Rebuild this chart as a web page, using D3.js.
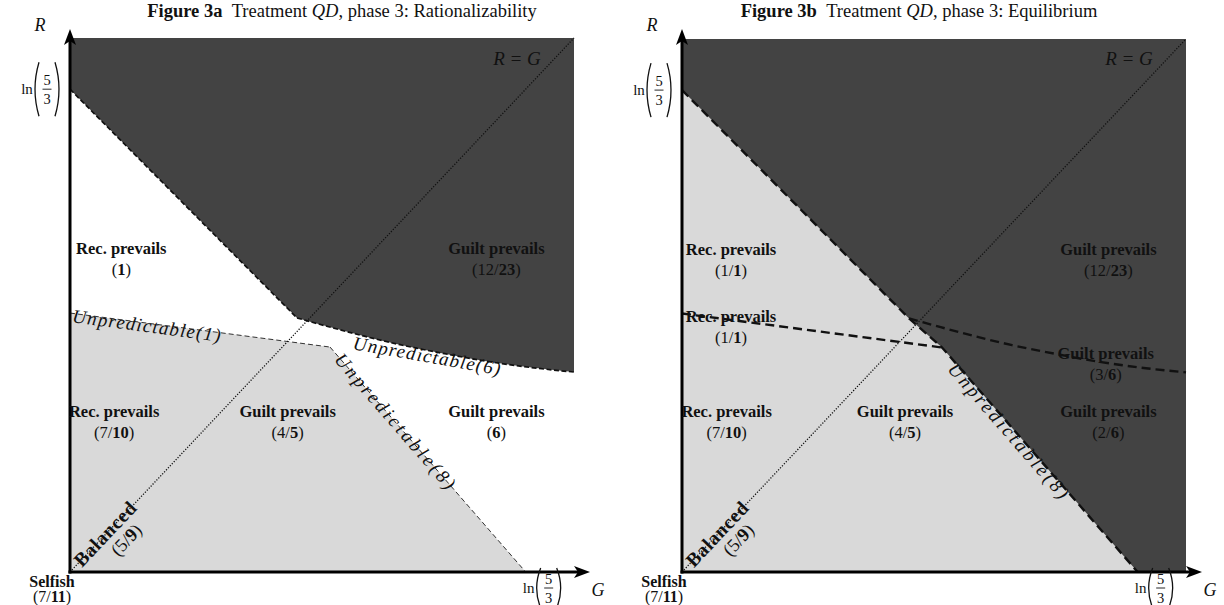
<!DOCTYPE html>
<html>
<head>
<meta charset="utf-8">
<script src="https://cdn.jsdelivr.net/npm/d3@7"></script>
<style>
  html, body { margin: 0; padding: 0; background: #fff; }
  svg { display: block; }
  text { font-family: "Liberation Serif", "Times New Roman", serif; fill: #111; }
</style>
</head>
<body>
<svg id="fig" width="1224" height="605"></svg>
<script>
// Parameter space: G (guilt sensitivity) and R (reciprocity sensitivity)
const L = Math.log(5 / 3);
const gMax = 0.565;
const rMax = 0.565;

// Boundary between "Rec. prevails" and the upper-right region (straight part)
const recGuiltEdge = [[0, L], [0.2545, 0.2688]];
// Curved boundary running from the kink on R = G to the right edge
const guiltCurve = [[0.2545, 0.2688], [0.290, 0.2595], [0.330, 0.2495], [0.370, 0.2405],
                    [0.420, 0.2310], [0.470, 0.2225], [0.520, 0.2160], [0.565, 0.2116]];
// Boundary between the lower-left "Rec. prevails" region and the upper one
const recLine = [[0, 0.274], [0.2915, 0.238]];
// Boundary between "Guilt prevails (4/5)" and the region to its right
const guiltEdge = [[0.2915, 0.238], [L, 0]];

// Region labels: name, numerator (null when single count), denominator, anchor (G, R)
const labelsA = [
  { name: "Rec. prevails", num: null, den: "1", g: 0.0575, r: 0.336 },
  { name: "Guilt prevails", num: "12", den: "23", g: 0.478, r: 0.336 },
  { name: "Rec. prevails", num: "7", den: "10", g: 0.0495, r: 0.164 },
  { name: "Guilt prevails", num: "4", den: "5", g: 0.244, r: 0.164 },
  { name: "Guilt prevails", num: null, den: "6", g: 0.478, r: 0.164 }
];
const labelsB = [
  { name: "Rec. prevails", num: "1", den: "1", g: 0.055, r: 0.336 },
  { name: "Guilt prevails", num: "12", den: "23", g: 0.478, r: 0.336 },
  { name: "Rec. prevails", num: "1", den: "1", g: 0.055, r: 0.2645 },
  { name: "Guilt prevails", num: "3", den: "6", g: 0.475, r: 0.2255 },
  { name: "Rec. prevails", num: "7", den: "10", g: 0.050, r: 0.164 },
  { name: "Guilt prevails", num: "4", den: "5", g: 0.250, r: 0.164 },
  { name: "Guilt prevails", num: "2", den: "6", g: 0.478, r: 0.164 }
];
const selfish = { name: "Selfish", num: "7", den: "11" };
const balanced = { name: "Balanced", num: "5", den: "9" };

const titles = [
  { fig: "Figure 3a", rest: "phase 3: Rationalizability" },
  { fig: "Figure 3b", rest: "phase 3: Equilibrium" }
];

const DARK = "#434343";
const LIGHT = "#d9d9d9";
const LABEL_SIZE = 16.5;
const ITALIC_SIZE = 19;

const svg = d3.select("#fig");

function countText(sel, num, den) {
  sel.append("tspan").text("(");
  if (num !== null) {
    sel.append("tspan").text(num + "/");
  }
  sel.append("tspan").attr("font-weight", "bold").text(den);
  sel.append("tspan").text(")");
}

function regionLabel(g, x, y, d) {
  g.append("text").attr("text-anchor", "middle")
    .attr("font-size", LABEL_SIZE).attr("font-weight", "bold")
    .attr("x", x(d.g)).attr("y", y(d.r)).text(d.name);
  const c = g.append("text").attr("text-anchor", "middle")
    .attr("font-size", LABEL_SIZE).attr("x", x(d.g)).attr("y", y(d.r) + 21);
  countText(c, d.num, d.den);
}

function lnFrac(g, cx, cy, half) {
  // ln(5/3) written as ln with a stacked fraction in tall parentheses
  g.append("text").attr("x", cx - 20).attr("y", cy + 5).attr("font-size", 15)
    .attr("text-anchor", "middle").text("ln");
  g.append("path")
    .attr("d", `M${cx - 8},${cy - half} Q${cx - 16},${cy} ${cx - 8},${cy + half}`)
    .attr("fill", "none").attr("stroke", "#111").attr("stroke-width", 1.3);
  g.append("path")
    .attr("d", `M${cx + 8},${cy - half} Q${cx + 16},${cy} ${cx + 8},${cy + half}`)
    .attr("fill", "none").attr("stroke", "#111").attr("stroke-width", 1.3);
  g.append("text").attr("x", cx).attr("y", cy - 4).attr("font-size", 14.5)
    .attr("text-anchor", "middle").text("5");
  g.append("line").attr("x1", cx - 4.5).attr("x2", cx + 4.5).attr("y1", cy).attr("y2", cy)
    .attr("stroke", "#111").attr("stroke-width", 0.9);
  g.append("text").attr("x", cx).attr("y", cy + 14.5).attr("font-size", 14.5)
    .attr("text-anchor", "middle").text("3");
}

function textAt(g, str, px, py, angle, opts) {
  return g.append("text")
    .attr("transform", `translate(${px},${py}) rotate(${angle})`)
    .attr("font-size", opts.size || 16)
    .attr("font-style", opts.italic ? "italic" : null)
    .attr("font-weight", opts.bold ? "bold" : null)
    .attr("letter-spacing", opts.spacing || null)
    .attr("text-anchor", opts.anchor || "start")
    .text(str);
}

// place a label along segment a→b, starting `along` px from a, baseline shifted `down` px
function labelOnSegment(g, x, y, a, b, str, along, down, opts) {
  const ax = x(a[0]), ay = y(a[1]), bx = x(b[0]), by = y(b[1]);
  const len = Math.hypot(bx - ax, by - ay);
  const ux = (bx - ax) / len, uy = (by - ay) / len;
  const px = ax + ux * along - uy * down;
  const py = ay + uy * along + ux * down;
  return textAt(g, str, px, py, Math.atan2(uy, ux) * 180 / Math.PI, opts);
}

function drawPanel(idx) {
  const ox = idx * 612;
  const g = svg.append("g");
  const x = d3.scaleLinear().domain([0, gMax]).range([70 + ox, 574 + ox]);
  const y = d3.scaleLinear().domain([0, rMax]).range([572, idx === 0 ? 38 : 39]);
  const line = d3.line().x(d => x(d[0])).y(d => y(d[1]));
  const curve = d3.line().x(d => x(d[0])).y(d => y(d[1])).curve(d3.curveMonotoneX);
  const lastR = guiltCurve[guiltCurve.length - 1][1];

  if (idx === 0) {
    // dark region above the guilt/reciprocity boundary
    const darkPath = line([[0, L], [0, rMax], [gMax, rMax], [gMax, lastR]])
      + curve(guiltCurve.slice().reverse()).replace(/^M/, "L") + "Z";
    g.append("path").attr("d", darkPath).attr("fill", DARK);
    // light region in the lower left
    g.append("path")
      .attr("d", line([[0, 0], recLine[0], recLine[1], guiltEdge[1]]) + "Z")
      .attr("fill", LIGHT);
    // boundaries
    g.append("path").attr("d", line(recGuiltEdge)).attr("fill", "none")
      .attr("stroke", "#111").attr("stroke-width", 1.7).attr("stroke-dasharray", "5,2.5");
    g.append("path").attr("d", curve(guiltCurve)).attr("fill", "none")
      .attr("stroke", "#111").attr("stroke-width", 1.7).attr("stroke-dasharray", "5,2.5");
    g.append("path").attr("d", line(recLine)).attr("fill", "none")
      .attr("stroke", "#333").attr("stroke-width", 1).attr("stroke-dasharray", "5,3");
    g.append("path").attr("d", line(guiltEdge)).attr("fill", "none")
      .attr("stroke", "#333").attr("stroke-width", 1).attr("stroke-dasharray", "5,3");
  } else {
    g.append("rect").attr("x", x(0)).attr("y", y(rMax))
      .attr("width", x(gMax) - x(0)).attr("height", y(0) - y(rMax)).attr("fill", LIGHT);
    const main = [recGuiltEdge[0], recGuiltEdge[1], guiltEdge[0], guiltEdge[1]];
    g.append("path")
      .attr("d", line([[0, L], [0, rMax], [gMax, rMax], [gMax, 0], [L, 0], guiltEdge[0], recGuiltEdge[1]]) + "Z")
      .attr("fill", DARK);
    g.append("path").attr("d", line(main)).attr("fill", "none")
      .attr("stroke", "#111").attr("stroke-width", 2.4).attr("stroke-dasharray", "9,5");
    g.append("path").attr("d", curve(guiltCurve)).attr("fill", "none")
      .attr("stroke", "#111").attr("stroke-width", 2.4).attr("stroke-dasharray", "9,5");
    g.append("path").attr("d", line(recLine)).attr("fill", "none")
      .attr("stroke", "#111").attr("stroke-width", 2.4).attr("stroke-dasharray", "9,5");
  }

  // R = G diagonal
  g.append("path").attr("d", line([[0, 0], [gMax, rMax]])).attr("fill", "none")
    .attr("stroke", "#111").attr("stroke-width", 1.3).attr("stroke-dasharray", "1.2,1.6");

  // axes with arrowheads
  g.append("line").attr("x1", x(0)).attr("y1", y(0) + 1.5).attr("x2", x(0)).attr("y2", 40)
    .attr("stroke", "#000").attr("stroke-width", 3);
  g.append("line").attr("x1", x(0) - 1.5).attr("y1", y(0)).attr("x2", 578 + ox).attr("y2", y(0))
    .attr("stroke", "#000").attr("stroke-width", 3);
  g.append("path")
    .attr("d", `M${x(0)},29 L${x(0) + 6},45 L${x(0)},41 L${x(0) - 6},45 Z`).attr("fill", "#000");
  g.append("path")
    .attr("d", `M${590 + ox},${y(0)} L${574 + ox},${y(0) + 6} L${578 + ox},${y(0)} L${574 + ox},${y(0) - 6} Z`)
    .attr("fill", "#000");

  // axis names and tick fractions
  textAt(g, "R", 40 + ox, 31, 0, { italic: true, size: 18, anchor: "middle" });
  textAt(g, "G", 598 + ox, 596, 0, { italic: true, size: 18, anchor: "middle" });
  lnFrac(g, 47 + ox, y(L), 27);
  lnFrac(g, x(L) + 23, 588, 20);
  textAt(g, "R = G", 517 + ox, 65, 0, { italic: true, size: 19, anchor: "middle" });

  // title
  const tt = g.append("text").attr("x", idx === 0 ? 342 : 919).attr("y", 17).attr("font-size", 18.5)
    .attr("text-anchor", "middle");
  tt.append("tspan").attr("font-weight", "bold").text(titles[idx].fig + "\u2002");
  tt.append("tspan").text("Treatment ");
  tt.append("tspan").attr("font-style", "italic").text("QD");
  tt.append("tspan").text(", " + titles[idx].rest);

  // region labels
  (idx === 0 ? labelsA : labelsB).forEach(d => regionLabel(g, x, y, d));

  // selfish label under the origin
  g.append("text").attr("x", 52 + ox).attr("y", 587).attr("font-size", 16)
    .attr("text-anchor", "middle").attr("font-weight", "bold").text(selfish.name);
  countText(g.append("text").attr("x", 52 + ox).attr("y", 602).attr("font-size", 16)
    .attr("text-anchor", "middle"), selfish.num, selfish.den);

  // balanced label along the diagonal
  labelOnSegment(g, x, y, [0, 0], [gMax, rMax], balanced.name, 11, 6, { bold: true, size: 19.5, spacing: 0.6 });
  const c59 = labelOnSegment(g, x, y, [0, 0], [gMax, rMax], "", 44, 25, { size: 18.5 });
  countText(c59, balanced.num, balanced.den);

  // labels of the indeterminate boundaries
  const it = { italic: true, size: ITALIC_SIZE, spacing: 1.2 };
  const itWide = { italic: true, size: ITALIC_SIZE, spacing: 2.8 };
  if (idx === 0) {
    labelOnSegment(g, x, y, recLine[0], recLine[1], "Unpredictable(1)", 3, 9, it);
    textAt(g, "Unpredictable(6)", x(0.3165), y(0.2495) + 13, 10, it);
    labelOnSegment(g, x, y, guiltEdge[0], guiltEdge[1], "Unpredictable(8)", 12, 6, itWide);
  } else {
    labelOnSegment(g, x, y, guiltEdge[0], guiltEdge[1], "Unpredictable(8)", 20, 11, itWide);
  }
}

drawPanel(0);
drawPanel(1);
</script>
</body>
</html>
